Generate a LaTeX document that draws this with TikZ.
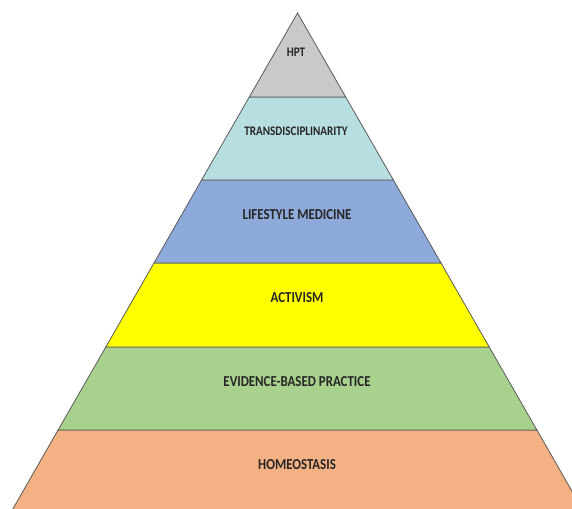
\documentclass[tikz,border=0pt]{standalone}
\usepackage{fontspec}
\usepackage{graphicx}
\setmainfont{Carlito}
\newcommand{\tallbig}[1]{\scalebox{1}[1.18]{\bfseries\fontsize{12.9}{14}\selectfont #1}}
\newcommand{\tallsmall}[1]{\scalebox{1}[1.18]{\bfseries\fontsize{11.1}{13}\selectfont #1}}
\begin{document}
\begin{tikzpicture}[x=1pt,y=-1pt,
  band/.style={draw=black!65,line width=0.8pt,line join=miter},
  lbl/.style={text=black!85,inner sep=0pt}]
\definecolor{cHPT}{HTML}{C9C9C9}
\definecolor{cTR}{HTML}{B7DEE1}
\definecolor{cLM}{HTML}{8EAADB}
\definecolor{cAC}{HTML}{FFFF00}
\definecolor{cEB}{HTML}{A9D18E}
\definecolor{cHO}{HTML}{F4B183}
\useasboundingbox (0,0) rectangle (572,508);
\clip (0,0) rectangle (572,508);
\path[band,fill=cHO] (6.5,520) -- (58.1,430) -- (536.9,430) -- (588.5,520) -- cycle;
\path[band,fill=cEB] (58.1,430) -- (105.8,347) -- (489.2,347) -- (536.9,430) -- cycle;
\path[band,fill=cAC] (105.8,347) -- (154.0,263) -- (441.0,263) -- (489.2,347) -- cycle;
\path[band,fill=cLM] (154.0,263) -- (201.6,180) -- (393.4,180) -- (441.0,263) -- cycle;
\path[band,fill=cTR] (201.6,180) -- (249.3,97) -- (345.7,97) -- (393.4,180) -- cycle;
\path[band,fill=cHPT] (249.3,97) -- (297.5,13) -- (345.7,97) -- cycle;
\node[lbl] (hpt) at (296,52) {\tallsmall{HPT}};
\node[lbl] (trans) at (296,131) {\tallsmall{TRANSDISCIPLINARITY}};
\node[lbl] (life) at (297,215) {\tallbig{LIFESTYLE MEDICINE}};
\node[lbl] (act) at (297,298) {\tallbig{ACTIVISM}};
\node[lbl] (ebp) at (297,382) {\tallbig{EVIDENCE-BASED PRACTICE}};
\node[lbl] (homeo) at (297,465) {\tallbig{HOMEOSTASIS}};
\end{tikzpicture}
\end{document}
